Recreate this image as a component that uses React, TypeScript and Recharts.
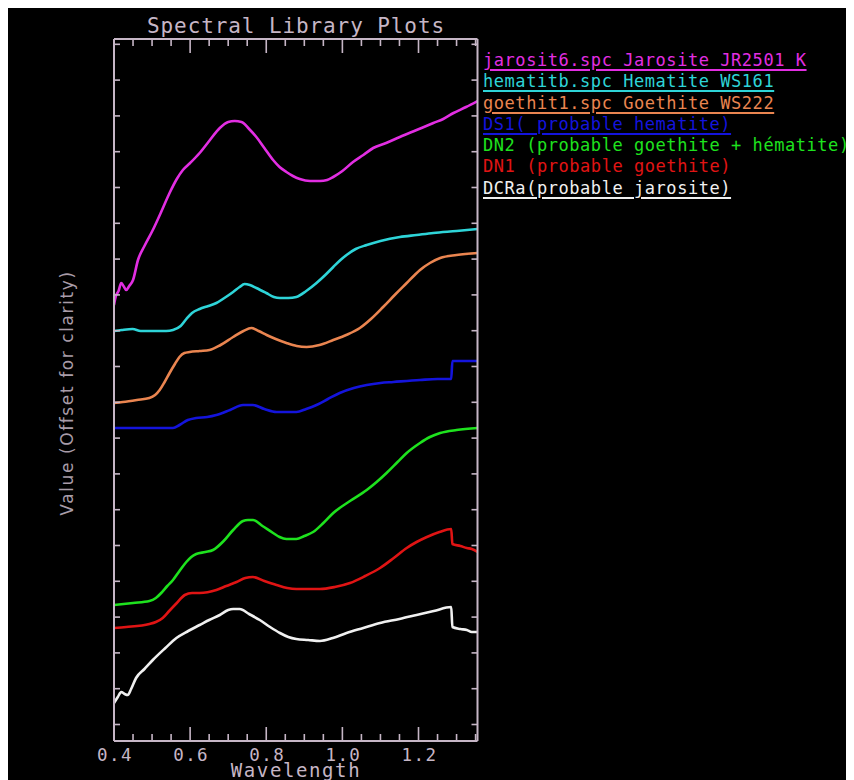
import React from 'react';
import { LineChart, Line, XAxis, YAxis, Legend, Label } from 'recharts';

// [wavelength (µm), offset value]
const jarosite: [number, number][] = [
  [0.4, 4.36], [0.405, 4.45], [0.412, 4.5], [0.419, 4.58], [0.425, 4.55], [0.432, 4.51], [0.44, 4.55],
  [0.45, 4.61], [0.463, 4.81], [0.48, 4.95], [0.502, 5.11], [0.525, 5.3], [0.546, 5.48], [0.565, 5.62],
  [0.581, 5.71], [0.6, 5.78], [0.625, 5.88], [0.65, 6.0], [0.678, 6.13], [0.7, 6.19], [0.717, 6.2],
  [0.735, 6.19], [0.755, 6.12], [0.774, 6.04], [0.795, 5.93], [0.818, 5.81], [0.835, 5.74], [0.853, 5.69],
  [0.87, 5.65], [0.888, 5.62], [0.915, 5.6], [0.941, 5.6], [0.96, 5.61], [0.976, 5.64], [1.0, 5.7],
  [1.028, 5.79], [1.055, 5.86], [1.081, 5.93], [1.115, 5.98], [1.151, 6.04], [1.195, 6.11], [1.239, 6.18],
  [1.265, 6.22], [1.292, 6.28], [1.325, 6.34], [1.355, 6.4],
];
const hematite: [number, number][] = [
  [0.4, 4.1], [0.42, 4.11], [0.449, 4.12], [0.47, 4.1], [0.537, 4.1], [0.555, 4.11], [0.575, 4.15],
  [0.59, 4.22], [0.605, 4.28], [0.625, 4.32], [0.648, 4.35], [0.669, 4.38], [0.69, 4.43], [0.713, 4.49],
  [0.73, 4.54], [0.743, 4.57], [0.757, 4.56], [0.774, 4.53], [0.8, 4.48], [0.82, 4.44], [0.836, 4.43],
  [0.858, 4.43], [0.879, 4.44], [0.905, 4.5], [0.932, 4.58], [0.955, 4.66], [0.976, 4.74], [0.995, 4.81],
  [1.011, 4.86], [1.035, 4.92], [1.064, 4.96], [1.1, 5.0], [1.151, 5.04], [1.195, 5.06], [1.239, 5.08],
  [1.3, 5.1], [1.355, 5.12],
];
const goethite: [number, number][] = [
  [0.4, 3.38], [0.423, 3.39], [0.46, 3.41], [0.493, 3.43], [0.508, 3.46], [0.52, 3.51], [0.533, 3.59],
  [0.546, 3.68], [0.56, 3.77], [0.572, 3.84], [0.585, 3.88], [0.599, 3.89], [0.625, 3.9], [0.651, 3.91],
  [0.68, 3.96], [0.713, 4.04], [0.74, 4.1], [0.761, 4.13], [0.78, 4.1], [0.801, 4.06], [0.825, 4.02],
  [0.853, 3.98], [0.88, 3.95], [0.906, 3.94], [0.94, 3.96], [0.976, 4.01], [1.01, 4.06], [1.046, 4.13],
  [1.075, 4.22], [1.107, 4.34], [1.14, 4.47], [1.169, 4.58], [1.19, 4.66], [1.204, 4.71], [1.23, 4.78],
  [1.257, 4.83], [1.3, 4.86], [1.355, 4.88],
];
const ds1: [number, number][] = [
  [0.4, 3.13], [0.555, 3.13], [0.572, 3.16], [0.594, 3.21], [0.616, 3.23], [0.645, 3.24], [0.669, 3.26],
  [0.705, 3.31], [0.739, 3.36], [0.765, 3.36], [0.795, 3.32], [0.827, 3.29], [0.879, 3.29], [0.905, 3.32],
  [0.932, 3.36], [0.962, 3.42], [0.993, 3.48], [1.03, 3.53], [1.064, 3.56], [1.1, 3.58], [1.134, 3.59],
  [1.204, 3.61], [1.25, 3.62], [1.286, 3.62], [1.289, 3.8], [1.355, 3.8],
];
const dn2: [number, number][] = [
  [0.4, 1.36], [0.45, 1.38], [0.493, 1.4], [0.51, 1.43], [0.524, 1.48], [0.54, 1.55], [0.555, 1.61],
  [0.572, 1.7], [0.59, 1.79], [0.603, 1.84], [0.616, 1.87], [0.64, 1.89], [0.66, 1.91], [0.688, 2.0],
  [0.713, 2.11], [0.739, 2.2], [0.752, 2.21], [0.765, 2.21], [0.79, 2.15], [0.818, 2.08], [0.835, 2.04],
  [0.853, 2.02], [0.879, 2.02], [0.9, 2.05], [0.923, 2.09], [0.95, 2.18], [0.976, 2.28], [1.02, 2.4],
  [1.064, 2.51], [1.09, 2.59], [1.116, 2.68], [1.145, 2.79], [1.169, 2.88], [1.204, 2.98], [1.23, 3.04],
  [1.257, 3.08], [1.3, 3.11], [1.355, 3.13],
];
const dn1: [number, number][] = [
  [0.4, 1.13], [0.432, 1.14], [0.493, 1.17], [0.51, 1.19], [0.528, 1.23], [0.545, 1.3], [0.565, 1.38],
  [0.586, 1.46], [0.605, 1.48], [0.625, 1.48], [0.669, 1.51], [0.695, 1.55], [0.722, 1.59], [0.745, 1.63],
  [0.765, 1.64], [0.795, 1.6], [0.827, 1.56], [0.855, 1.53], [0.879, 1.52], [0.941, 1.52], [0.98, 1.54],
  [1.02, 1.58], [1.06, 1.65], [1.099, 1.73], [1.135, 1.83], [1.169, 1.93], [1.195, 1.99], [1.222, 2.04],
  [1.255, 2.09], [1.286, 2.12], [1.289, 1.97], [1.31, 1.95], [1.327, 1.93], [1.34, 1.92], [1.355, 1.89],
];
const dcra: [number, number][] = [
  [0.4, 0.38], [0.41, 0.44], [0.419, 0.49], [0.428, 0.47], [0.436, 0.46], [0.445, 0.52], [0.458, 0.63],
  [0.48, 0.72], [0.502, 0.81], [0.535, 0.93], [0.564, 1.03], [0.595, 1.1], [0.625, 1.16], [0.65, 1.21],
  [0.678, 1.26], [0.7, 1.31], [0.713, 1.32], [0.73, 1.32], [0.755, 1.27], [0.783, 1.21], [0.81, 1.14],
  [0.836, 1.08], [0.858, 1.04], [0.879, 1.02], [0.91, 1.01], [0.941, 1.0], [0.975, 1.03], [1.011, 1.08],
  [1.055, 1.13], [1.099, 1.18], [1.15, 1.22], [1.195, 1.26], [1.24, 1.3], [1.286, 1.34], [1.289, 1.14],
  [1.31, 1.12], [1.327, 1.11], [1.34, 1.09], [1.355, 1.09],
];

const seriesNames = [
  'jarosit6.spc Jarosite JR2501 K',
  'hematitb.spc Hematite WS161',
  'goethit1.spc Goethite WS222',
  'DS1( probable hematite)',
  'DN2 (probable goethite + hématite)',
  'DN1 (probable goethite)',
  'DCRa(probable jarosite)',
];
const seriesColors = ['#e22ee2', '#2ed4d8', '#ea8550', '#1414dc', '#1ee21e', '#e01414', '#f0f0f0'];
const seriesUnderlined = [true, true, true, true, false, false, true];
const seriesData = [jarosite, hematite, goethite, ds1, dn2, dn1, dcra];

const xTicks = [0.4, 0.45, 0.5, 0.55, 0.6, 0.65, 0.7, 0.75, 0.8, 0.85, 0.9, 0.95, 1.0, 1.05, 1.1, 1.15, 1.2, 1.25, 1.3, 1.35];
const xMajorTicks = [0.4, 0.6, 0.8, 1.0, 1.2];
const yTicks = [0.165, 0.523, 0.881, 1.239, 1.597, 1.955, 2.313, 2.671, 3.029, 3.387, 3.745, 4.103, 4.461, 4.819, 5.177, 5.535, 5.893, 6.251, 6.609, 6.967];

const X_DOMAIN: [number, number] = [0.4, 1.355];
const Y_DOMAIN: [number, number] = [0, 7.02];

const AXIS = '#c6b6c6';
const MONO = '"DejaVu Sans Mono", monospace';
const SANS = '"DejaVu Sans", sans-serif';

const isMajor = (v: number) => xMajorTicks.some((m) => Math.abs(m - v) < 1e-6);

const BottomTick = (props: any) => {
  const { x, y, payload } = props;
  const major = isMajor(payload.value);
  return (
    <g>
      <line x1={x} x2={x} y1={y} y2={y - (major ? 14 : 7)} stroke={AXIS} strokeWidth={1.6} />
      {major && (
        <text x={x + 1} y={y + 20} textAnchor="middle" fill={AXIS} fontFamily={MONO} fontSize={17.5} letterSpacing={1.4}>
          {Number(payload.value).toFixed(1)}
        </text>
      )}
    </g>
  );
};

const TopTick = (props: any) => {
  const { x, y, payload } = props;
  const major = isMajor(payload.value);
  return <line x1={x} x2={x} y1={y} y2={y + (major ? 14 : 7)} stroke={AXIS} strokeWidth={1.6} />;
};

const LeftTick = (props: any) => {
  const { x, y } = props;
  return <line x1={x} x2={x + 6} y1={y} y2={y} stroke={AXIS} strokeWidth={1.6} />;
};

const RightTick = (props: any) => {
  const { x, y } = props;
  return <line x1={x} x2={x - 6} y1={y} y2={y} stroke={AXIS} strokeWidth={1.6} />;
};

const renderLegend = (props: any) => {
  const payload: any[] = props.payload || [];
  const sorted = [...payload].sort((a, b) => seriesNames.indexOf(a.value) - seriesNames.indexOf(b.value));
  return (
    <div style={{ fontFamily: MONO, fontSize: 17, letterSpacing: 0.55, lineHeight: '21.3px' }}>
      {sorted.map((entry) => {
        const i = seriesNames.indexOf(entry.value);
        return (
          <div
            key={entry.value}
            style={{
              color: seriesColors[i],
              whiteSpace: 'nowrap',
              height: 21.3,
              textDecoration: seriesUnderlined[i] ? 'underline' : 'none',
              textDecorationThickness: '2px',
              textUnderlineOffset: '3px',
            }}
          >
            {entry.value}
          </div>
        );
      })}
    </div>
  );
};

export default function App() {
  return (
    <div style={{ width: 846, height: 772, background: '#000', position: 'relative' }}>
      <LineChart width={846} height={772} margin={{ top: 0, right: 0, bottom: 0, left: 0 }}>
        <XAxis
          xAxisId="b"
          dataKey="wl"
          type="number"
          domain={X_DOMAIN}
          allowDataOverflow
          ticks={xTicks}
          interval={0}
          tickSize={0}
          tickMargin={0}
          tickLine={false}
          tick={<BottomTick />}
          axisLine={{ stroke: AXIS, strokeWidth: 2 }}
          height={39}
        >
          <Label
            content={() => (
              <text x={288} y={769} textAnchor="middle" fill={AXIS} fontFamily={MONO} fontSize={19} letterSpacing={1.6}>
                Wavelength
              </text>
            )}
          />
        </XAxis>
        <XAxis
          xAxisId="t"
          orientation="top"
          dataKey="wl"
          type="number"
          domain={X_DOMAIN}
          allowDataOverflow
          ticks={xTicks}
          interval={0}
          tickSize={0}
          tickMargin={0}
          tickLine={false}
          tick={<TopTick />}
          axisLine={{ stroke: AXIS, strokeWidth: 2 }}
          height={31}
        >
          <Label
            content={() => (
              <text x={288} y={25} textAnchor="middle" fill={AXIS} fontFamily={MONO} fontSize={21} letterSpacing={0.9}>
                Spectral Library Plots
              </text>
            )}
          />
        </XAxis>
        <YAxis
          yAxisId="l"
          type="number"
          domain={Y_DOMAIN}
          allowDataOverflow
          ticks={yTicks}
          interval={0}
          tickSize={0}
          tickMargin={0}
          tickLine={false}
          tick={<LeftTick />}
          axisLine={{ stroke: AXIS, strokeWidth: 2 }}
          width={106}
        >
          <Label
            content={() => (
              <text
                x={59}
                y={385}
                transform="rotate(-90 59 385)"
                textAnchor="middle"
                dominantBaseline="central"
                fill="#a89ca8"
                fontFamily={SANS}
                fontSize={17}
                letterSpacing={1.6}
              >
                Value (Offset for clarity)
              </text>
            )}
          />
        </YAxis>
        <YAxis
          yAxisId="r"
          orientation="right"
          type="number"
          domain={Y_DOMAIN}
          allowDataOverflow
          ticks={yTicks}
          interval={0}
          tickSize={0}
          tickMargin={0}
          tickLine={false}
          tick={<RightTick />}
          axisLine={{ stroke: AXIS, strokeWidth: 2 }}
          width={376.5}
        />
        <Legend
          layout="vertical"
          align="center"
          verticalAlign="middle"
          wrapperStyle={{ left: 475, top: 42, width: 371, height: 150 }}
          content={renderLegend}
        />
        {seriesData.map((arr, i) => (
          <Line
            key={seriesNames[i]}
            xAxisId="b"
            yAxisId="l"
            data={arr.map(([wl, v]) => ({ wl, v }))}
            dataKey="v"
            name={seriesNames[i]}
            stroke={seriesColors[i]}
            strokeWidth={2.6}
            dot={false}
            activeDot={false}
            type="monotone"
            isAnimationActive={false}
          />
        ))}
      </LineChart>
    </div>
  );
}
